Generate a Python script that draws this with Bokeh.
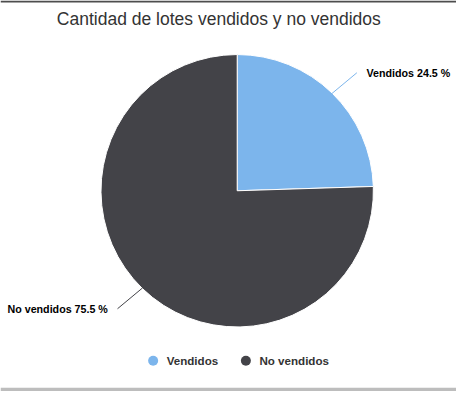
import numpy as np
from bokeh.plotting import figure
from bokeh.models import Range1d
from bokeh.core.properties import value
from bokeh.embed import file_html
from bokeh.resources import INLINE

title_text = "Cantidad de lotes vendidos y no vendidos"
categories = ["Vendidos", "No vendidos"]
percentages = [24.5, 75.5]
colors = ["#7cb5ec", "#434348"]

W, H = 456, 393
RW, RH = 472, 409  # reference chart coordinate space
p = figure(width=W, height=H, output_backend="svg", toolbar_location=None,
           x_range=Range1d(0, RW), y_range=Range1d(0, RH), min_border=0)
p.axis.visible = False
p.grid.visible = False
p.outline_line_color = None
p.background_fill_color = "white"
p.border_fill_color = "white"

def Y(y):
    return RH - y

FONT = value("Liberation Sans")

# frame decorations (container borders)
p.quad(left=[0], right=[RW], top=[Y(0)], bottom=[Y(2)], fill_color="#4d4d4d", line_color=None)
p.quad(left=[0], right=[RW], top=[Y(403)], bottom=[Y(406.5)], fill_color="#bdbdbd", line_color=None)

# title
p.text(x=[226], y=[Y(19)], text=[title_text], text_font=FONT,
       text_font_size="17.5px", text_color="#333333", text_align="center",
       text_baseline="middle")

# pie
cx, cy, r = 245, Y(198), 141
frac = np.array(percentages) / sum(percentages)
cum = np.concatenate([[0], np.cumsum(frac)])
end_angles = np.deg2rad(90 - 360 * cum[:-1])
start_angles = np.deg2rad(90 - 360 * cum[1:])
p.wedge(x=cx, y=cy, radius=r, start_angle=list(start_angles), end_angle=list(end_angles),
        fill_color=colors, line_color="white", line_width=1)

# data labels with connectors
for cat, pct, col, a0, a1 in zip(categories, percentages, colors, start_angles, end_angles):
    mid = (a0 + a1) / 2
    ex, ey = cx + r * np.cos(mid), cy + r * np.sin(mid)
    bx, by = cx + 178 * np.cos(mid), cy + 171 * np.sin(mid)
    right = np.cos(mid) >= 0
    p.line(x=[ex, bx], y=[ey, by], line_color=col, line_width=1)
    tx = bx + (10 if right else -10)
    p.text(x=[tx], y=[by], text=[f"{cat} {pct} %"], text_font=FONT,
           text_font_size="10.7px", text_font_style="bold", text_color="#000000",
           text_align="left" if right else "right", text_baseline="middle")

# legend
leg_x = [158, 254]
leg_y = Y(375)
p.scatter(x=leg_x, y=[leg_y] * 2, size=10, marker="circle", fill_color=colors, line_color=None)
p.text(x=[lx + 14 for lx in leg_x], y=[leg_y] * 2, text=categories, text_font=FONT,
       text_font_size="11.6px", text_font_style="bold", text_color="#333333",
       text_align="left", text_baseline="middle")

open("out.html", "w").write(file_html(p, INLINE))
